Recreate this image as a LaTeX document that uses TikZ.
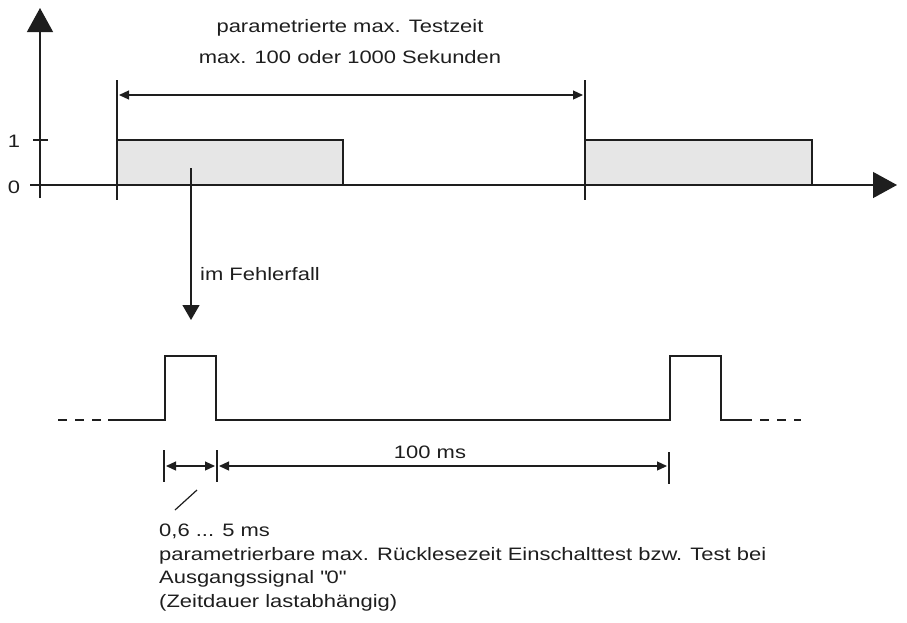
\documentclass[tikz,border=0pt]{standalone}
\usepackage{fontspec}
\setmainfont{Liberation Sans}[FakeStretch=1.22]
\usetikzlibrary{arrows.meta}
\definecolor{boxgray}{HTML}{E6E6E6}
\definecolor{inkgray}{HTML}{1E1E1E}

\tikzset{
  bigtip/.style={-{Triangle[length=24pt,width=26pt]}},
  axisline/.style={line width=1.3pt, draw=inkgray},
  dimline/.style={line width=1.2pt, draw=inkgray},
  dimtips/.style={{Triangle[length=10pt,width=9pt]}-{Triangle[length=10pt,width=9pt]}},
  signal/.style={line width=2pt, draw=inkgray},
  dashsignal/.style={signal, dash pattern=on 9pt off 8pt},
  pulsebox/.style={draw=inkgray, line width=2pt, fill=boxgray},
  lbl/.style={font=\fontsize{18}{23.5}\selectfont, text=inkgray, inner sep=0pt},
}

\begin{document}
\begin{tikzpicture}[x=1pt, y=-1pt]
\useasboundingbox (0,0) rectangle (907,622);

    % axes of the upper diagram
    \coordinate (origin) at (40,185);
    \coordinate (ytop) at (40,8);
    \coordinate (xend) at (897,185);
    \draw[axisline, bigtip] (40,198) -- (ytop);
    \draw[axisline, bigtip] (30,185) -- (xend);
    \draw[axisline] (33,140) -- (48,140);
    \node[lbl, anchor=base] (one) at (14,147) {1};
    \node[lbl, anchor=base] (zero) at (14,193) {0};

    % test pulses
    \draw[pulsebox] (117,185) rectangle (343,140);
    \draw[pulsebox] (585,185) rectangle (812,140);

    % test period
    \coordinate (tstartTop) at (117,80);
    \coordinate (tstopTop) at (585,80);
    \draw[dimline] (tstartTop) -- (117,200);
    \draw[dimline] (tstopTop) -- (585,200);
    \coordinate (tstart) at (117,95);
    \coordinate (tstop) at (585,95);
    \draw[dimline, dimtips] ([xshift=2pt]tstart) -- ([xshift=-2pt]tstop);
    \node[lbl, anchor=base] (periodA) at (350,32) {parametrierte max. Testzeit};
    \node[lbl, anchor=base] (periodB) at (350,63) {max. 100 oder 1000 Sekunden};

    % error case
    \coordinate (errfrom) at (191,168);
    \coordinate (errto) at (191,320);
    \draw[dimline, -{Triangle[length=15pt,width=17pt]}] (errfrom) -- (errto);
    \node[lbl, anchor=base west] (errlbl) at (200,280) {im Fehlerfall};

    % lower signal
    \draw[dashsignal] (58,420) -- (101,420);
    \draw[signal] (108,420) -- (165,420) -- (165,356) -- (216,356) -- (216,420)
        -- (670,420) -- (670,356) -- (721,356) -- (721,420) -- (752,420);
    \draw[dashsignal] (760,420) -- (801,420);

    % readback and period dimensions
    \coordinate (rbA) at (164,466);
    \coordinate (rbB) at (217,466);
    \coordinate (rbC) at (669,466);
    \draw[dimline] (164,450) -- (164,482);
    \draw[dimline] (217,450) -- (217,482);
    \draw[dimline] (669,452) -- (669,484);
    \draw[dimline, dimtips] ([xshift=2pt]rbA) -- ([xshift=-2pt]rbB);
    \draw[dimline, dimtips] ([xshift=2pt]rbB) -- ([xshift=-2pt]rbC);
    \node[lbl, anchor=base] (hundred) at (430,458) {100 ms};

    % note
    \draw[dimline] (197,490) -- (175,510);
    \node[lbl, anchor=base west] (rbtime) at (159,536) {0,6 ... 5 ms};
    \node[lbl, anchor=base west] (rbnoteA) at (159,560)
        {parametrierbare max. Rücklesezeit Einschalttest bzw. Test bei};
    \node[lbl, anchor=base west] (rbnoteB) at (159,583)
        {Ausgangssignal \textquotedbl 0\textquotedbl};
    \node[lbl, anchor=base west] (rbnoteC) at (159,607)
        {(Zeitdauer lastabhängig)};

\end{tikzpicture}
\end{document}
